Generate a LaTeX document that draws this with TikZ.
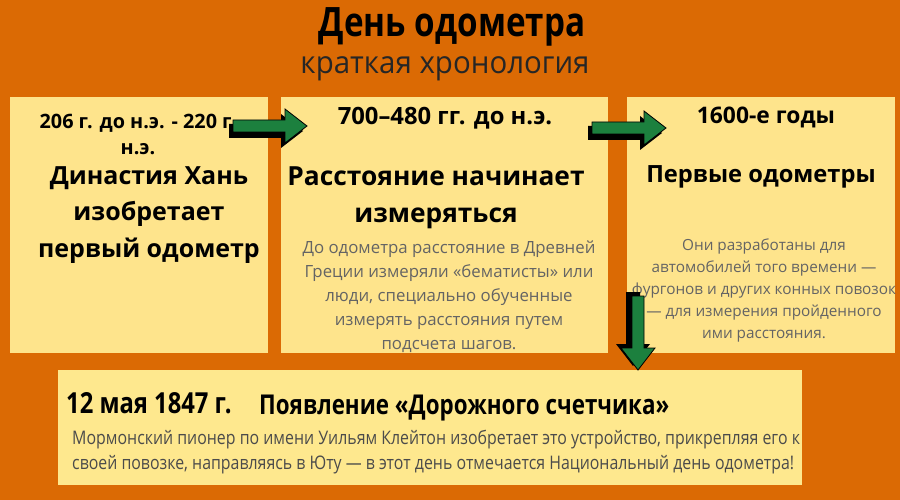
\documentclass[tikz,border=0pt]{standalone}
\usepackage{fontspec}
\setmainfont{Open Sans}
\newfontfamily\condfont[FakeStretch=0.82]{Open Sans}
\newfontfamily\subfont[FakeStretch=0.95]{Open Sans}
\newfontfamily\bodyfont[FakeStretch=0.85]{Open Sans}
\definecolor{bgorange}{RGB}{219,106,4}
\definecolor{boxyellow}{RGB}{254,228,140}
\definecolor{box4yellow}{RGB}{254,232,142}
\definecolor{arrowgreen}{RGB}{28,128,62}
\definecolor{bodygray}{RGB}{100,100,100}
\definecolor{bodydark}{RGB}{75,75,75}
\tikzset{
  box/.style={fill=boxyellow, draw=none, anchor=north west, inner sep=0pt},
  datetext/.style={font=\fontsize{23.8}{26}\selectfont\bfseries, align=center, inner sep=0pt},
  headtext/.style={font=\fontsize{25}{36.5}\selectfont\bfseries, align=center, inner sep=0pt},
  bodytext/.style={font=\fontsize{16.8}{24}\selectfont, text=bodygray, align=center, inner sep=0pt},
  blockarrow/.pic={
    \fill[black] (-4,-2) -- (48,-2) -- (48,-12) -- (70,5) -- (48,22) -- (48,12) -- (-4,12) -- cycle;
    \fill[arrowgreen, draw=black, line width=0.8pt] (0,-6) -- (52,-6) -- (52,-17) -- (74,0) -- (52,17) -- (52,6) -- (0,6) -- cycle;
  }
}
\begin{document}
\begin{tikzpicture}[x=1pt,y=-1pt]
\fill[bgorange] (0,0) rectangle (900,500);
\useasboundingbox (0,0) rectangle (900,500);

% title
\node[font=\condfont\fontsize{40.5}{44}\selectfont\bfseries, inner sep=0pt] (title) at (452,27) {День одометра};
\node[font=\subfont\fontsize{31}{34}\selectfont, text=black!85, inner sep=0pt] (subtitle) at (445,69) {краткая хронология};

% boxes
\node[box, minimum width=258, minimum height=256] (b1) at (10,97) {};
\node[box, minimum width=327, minimum height=256] (b2) at (281,97) {};
\node[box, minimum width=268, minimum height=256] (b3) at (627,97) {};
\node[box, fill=box4yellow, minimum width=744, minimum height=115] (b4) at (58,370) {};

% box 1
\node[datetext, font=\fontsize{19.8}{26}\selectfont\bfseries] (d1) at (138,134) {206 г. до н.э. - 220 г.\\н.э.};
\node[headtext] (h1) at (149,215) {Династия Хань\\изобретает\\первый одометр};

% box 2
\node[datetext] (d2) at (445,118) {700–480 гг. до н.э.};
\node[headtext, font=\fontsize{26.3}{37}\selectfont\bfseries] (h2) at (436,198) {Расстояние начинает\\измеряться};
\node[bodytext] (t2) at (449,297) {До одометра расстояние в Древней\\Греции измеряли «бематисты» или\\люди, специально обученные\\измерять расстояния путем\\подсчета шагов.};

% box 3
\node[datetext, font=\fontsize{22.8}{26}\selectfont\bfseries] (d3) at (766,117) {1600-е годы};
\node[headtext, font=\fontsize{23.7}{30}\selectfont\bfseries] (h3) at (761,177) {Первые одометры};
\node[bodytext, font=\fontsize{15.3}{22}\selectfont] (t3) at (764,290) {Они разработаны для\\автомобилей того времени —\\фургонов и других конных повозок\\— для измерения пройденного\\ими расстояния.};

% box 4
\node[font=\condfont\fontsize{29}{30}\selectfont\bfseries, anchor=west, inner sep=0pt] (d4) at (66,403) {12 мая 1847 г.};
\node[font=\condfont\fontsize{27.3}{30}\selectfont\bfseries, anchor=west, inner sep=0pt] (h4) at (259,408) {Появление «Дорожного счетчика»};
\node[font=\bodyfont\fontsize{18.7}{24.5}\selectfont, text=bodydark, align=left, anchor=west, inner sep=0pt] (t4) at (72,452) {Мормонский пионер по имени Уильям Клейтон изобретает это устройство, прикрепляя его к\\своей повозке, направляясь в Юту — в этот день отмечается Национальный день одометра!};

% arrows
\pic (arr1) at (233,126) {blockarrow};
\pic (arr2) at (592,128) {blockarrow};
\pic[rotate=-90] (arr3) at (638,296) {blockarrow};
\end{tikzpicture}
\end{document}
